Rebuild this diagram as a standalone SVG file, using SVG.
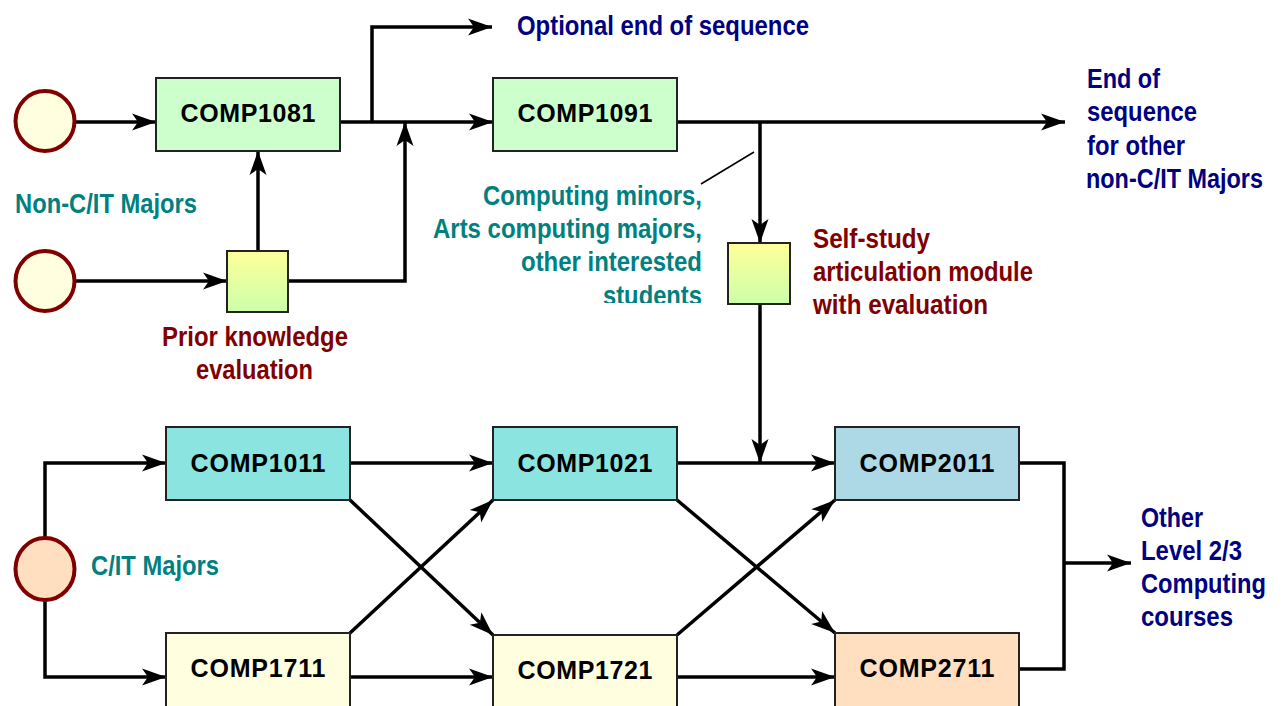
<svg xmlns="http://www.w3.org/2000/svg" width="1283" height="706" viewBox="0 0 1283 706">
<style>
.box{stroke:#222;stroke-width:2}
.code{font-family:"Liberation Sans",Arial,sans-serif;font-weight:bold;font-size:25px;fill:#000;text-anchor:middle}
.lbl{font-family:"Liberation Sans Narrow","Liberation Sans",Arial,sans-serif;font-weight:bold;font-size:27px}
.teal{fill:#008080}
.navy{fill:#000080}
.red{fill:#800000}
.start{stroke:#800000;stroke-width:4}
.conn{fill:none;stroke:#000;stroke-width:3.5}
</style>
<defs>
<marker id="ah" markerUnits="userSpaceOnUse" markerWidth="30" markerHeight="20" viewBox="-25 -10 27 20" refX="0" refY="0" orient="auto">
<path d="M0,0 L-24,-8.5 L-18,0 L-24,8.5 Z" fill="#000"/>
</marker>
<linearGradient id="gy" x1="0" y1="0" x2="0" y2="1">
<stop offset="0" stop-color="#ffff99"/>
<stop offset="1" stop-color="#ccffaa"/>
</linearGradient>
<clipPath id="clipS"><rect x="400" y="150" width="320" height="153"/></clipPath>
</defs>
<rect width="1283" height="706" fill="#fff"/>

<g id="connectors">
<path class="conn" d="M76,122 H156" marker-end="url(#ah)"/>
<path class="conn" d="M76,281 H227" marker-end="url(#ah)"/>
<path class="conn" d="M258,251 V151" marker-end="url(#ah)"/>
<path class="conn" d="M288,281 H405 V122" marker-end="url(#ah)"/>
<path class="conn" d="M340,122 H493" marker-end="url(#ah)"/>
<path class="conn" d="M372,122 V27 H492" marker-end="url(#ah)"/>
<path class="conn" d="M677,122 H1065" marker-end="url(#ah)"/>
<path class="conn" d="M760,122 V243" marker-end="url(#ah)"/>
<path class="conn" d="M760,304 V463" marker-end="url(#ah)"/>
<path d="M701,184 L754,152" fill="none" stroke="#000" stroke-width="1.5"/>
<path class="conn" d="M45,537 V463 H166" marker-end="url(#ah)"/>
<path class="conn" d="M45,601 V677 H166" marker-end="url(#ah)"/>
<path class="conn" d="M350,463 H493" marker-end="url(#ah)"/>
<path class="conn" d="M350,677 H493" marker-end="url(#ah)"/>
<path class="conn" d="M350,500 L493,635" marker-end="url(#ah)"/>
<path class="conn" d="M350,633 L493,500" marker-end="url(#ah)"/>
<path class="conn" d="M677,463 H835" marker-end="url(#ah)"/>
<path class="conn" d="M677,677 H835" marker-end="url(#ah)"/>
<path class="conn" d="M677,500 L835,633" marker-end="url(#ah)"/>
<path class="conn" d="M677,635 L835,500" marker-end="url(#ah)"/>
<path class="conn" d="M1019,463 H1064 V669 H1019"/>
<path class="conn" d="M1064,563 H1131" marker-end="url(#ah)"/>
</g>

<g id="start-nonc1"><ellipse class="start" cx="45" cy="121" rx="29.5" ry="30" fill="#ffffe0"/></g>
<g id="start-nonc2"><ellipse class="start" cx="45" cy="281" rx="29.5" ry="30" fill="#ffffe0"/></g>
<g id="start-cit"><ellipse class="start" cx="45" cy="569" rx="29.5" ry="31" fill="#ffdfbf"/></g>

<g id="comp1081"><rect class="box" x="156" y="78" width="184" height="73" fill="#ccffcc"/><text class="code" x="248" y="122" textLength="135">COMP1081</text></g>
<g id="comp1091"><rect class="box" x="493" y="78" width="184" height="73" fill="#ccffcc"/><text class="code" x="585" y="122" textLength="135">COMP1091</text></g>
<g id="prior-eval"><rect class="box" x="227" y="251" width="61" height="61" fill="url(#gy)"/></g>
<g id="self-study"><rect class="box" x="728" y="243" width="62" height="61" fill="url(#gy)"/></g>

<g id="comp1011"><rect class="box" x="166" y="427" width="184" height="73" fill="#8ce4e0"/><text class="code" x="258" y="472" textLength="135">COMP1011</text></g>
<g id="comp1021"><rect class="box" x="493" y="427" width="184" height="73" fill="#8ce4e0"/><text class="code" x="585" y="472" textLength="135">COMP1021</text></g>
<g id="comp2011"><rect class="box" x="835" y="427" width="184" height="73" fill="#add8e6"/><text class="code" x="927" y="472" textLength="135">COMP2011</text></g>
<g id="comp1711"><rect class="box" x="166" y="633" width="184" height="80" fill="#ffffe0"/><text class="code" x="258" y="677" textLength="135">COMP1711</text></g>
<g id="comp1721"><rect class="box" x="493" y="635" width="184" height="80" fill="#ffffe0"/><text class="code" x="585" y="679" textLength="135">COMP1721</text></g>
<g id="comp2711"><rect class="box" x="835" y="633" width="184" height="80" fill="#ffdfbf"/><text class="code" x="927" y="677" textLength="135">COMP2711</text></g>

<g id="labels">
<text class="lbl navy" x="517" y="35" textLength="292" lengthAdjust="spacingAndGlyphs">Optional end of sequence</text>
<text class="lbl navy" x="1087" y="88" textLength="73" lengthAdjust="spacingAndGlyphs">End of</text>
<text class="lbl navy" x="1087" y="121" textLength="110" lengthAdjust="spacingAndGlyphs">sequence</text>
<text class="lbl navy" x="1087" y="155" textLength="98" lengthAdjust="spacingAndGlyphs">for other</text>
<text class="lbl navy" x="1086" y="188" textLength="177" lengthAdjust="spacingAndGlyphs">non-C/IT Majors</text>
<text class="lbl teal" x="15" y="213" textLength="182" lengthAdjust="spacingAndGlyphs">Non-C/IT Majors</text>
<text class="lbl red" x="162" y="346" textLength="186" lengthAdjust="spacingAndGlyphs">Prior knowledge</text>
<text class="lbl red" x="196" y="379" textLength="117" lengthAdjust="spacingAndGlyphs">evaluation</text>
<g clip-path="url(#clipS)">
<text class="lbl teal" x="483" y="205" textLength="219" lengthAdjust="spacingAndGlyphs">Computing minors,</text>
<text class="lbl teal" x="433" y="238" textLength="269" lengthAdjust="spacingAndGlyphs">Arts computing majors,</text>
<text class="lbl teal" x="521" y="271" textLength="181" lengthAdjust="spacingAndGlyphs">other interested</text>
<text class="lbl teal" x="603" y="305" textLength="99" lengthAdjust="spacingAndGlyphs">students</text>
</g>
<text class="lbl red" x="813" y="248" textLength="117" lengthAdjust="spacingAndGlyphs">Self-study</text>
<text class="lbl red" x="813" y="281" textLength="220" lengthAdjust="spacingAndGlyphs">articulation module</text>
<text class="lbl red" x="813" y="314" textLength="175" lengthAdjust="spacingAndGlyphs">with evaluation</text>
<text class="lbl teal" x="91" y="575" textLength="128" lengthAdjust="spacingAndGlyphs">C/IT Majors</text>
<text class="lbl navy" x="1141" y="527" textLength="62" lengthAdjust="spacingAndGlyphs">Other</text>
<text class="lbl navy" x="1141" y="560" textLength="101" lengthAdjust="spacingAndGlyphs">Level 2/3</text>
<text class="lbl navy" x="1141" y="593" textLength="125" lengthAdjust="spacingAndGlyphs">Computing</text>
<text class="lbl navy" x="1141" y="626" textLength="92" lengthAdjust="spacingAndGlyphs">courses</text>
</g>
</svg>
